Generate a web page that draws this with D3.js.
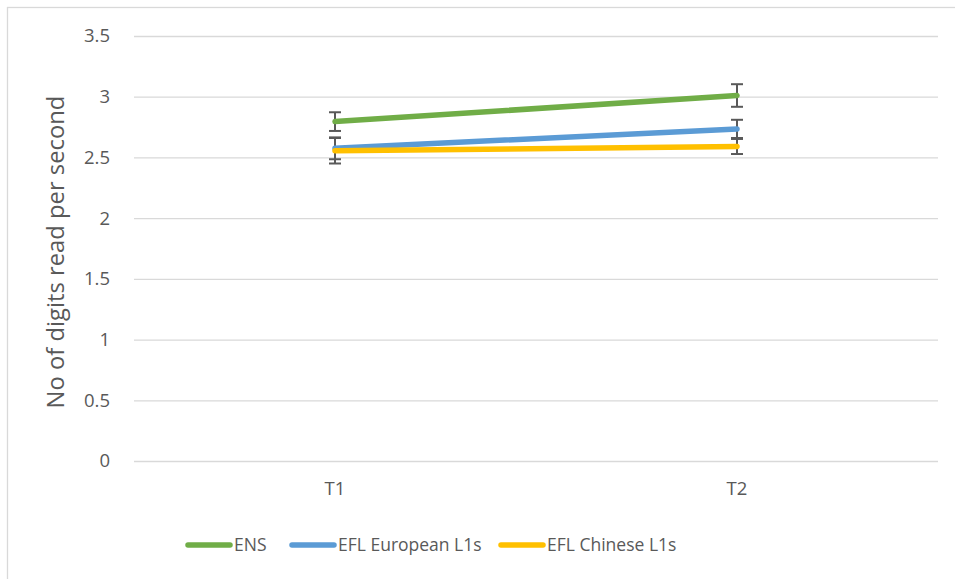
<!DOCTYPE html>
<html>
<head>
<meta charset="utf-8">
<script src="https://cdn.jsdelivr.net/npm/d3@7"></script>
<style>
  html, body { margin: 0; padding: 0; background: #fff; }
  svg { display: block; }
  text { font-family: "Open Sans", Lato, sans-serif; fill: #595959; }
</style>
</head>
<body>
<svg id="chart" width="955" height="579"></svg>
<script>
// Time points and y-axis ticks
const categories = ["T1", "T2"];
const yTicks = [0, 0.5, 1, 1.5, 2, 2.5, 3, 3.5];

// Group names and colours
const seriesNames = ["ENS", "EFL European L1s", "EFL Chinese L1s"];
const seriesColors = ["#70AD47", "#5B9BD5", "#FFC000"];

// Mean digits read per second at each time point, with error bar half-widths
const ensValues = [2.795, 3.01];
const ensErrors = [0.077, 0.093];
const europeanValues = [2.575, 2.735];
const europeanErrors = [0.09, 0.075];
const chineseValues = [2.555, 2.59];
const chineseErrors = [0.105, 0.062];

const series = [
  { name: seriesNames[0], color: seriesColors[0], values: ensValues, errors: ensErrors },
  { name: seriesNames[1], color: seriesColors[1], values: europeanValues, errors: europeanErrors },
  { name: seriesNames[2], color: seriesColors[2], values: chineseValues, errors: chineseErrors }
];

const svg = d3.select("#chart");
const FONT = '"Open Sans", Lato, sans-serif';

// Outer chart frame
svg.append("rect")
  .attr("x", 7.5).attr("y", 7.5)
  .attr("width", 970).attr("height", 600)
  .attr("fill", "none")
  .attr("stroke", "#d9d9d9")
  .attr("stroke-width", 1.3);

const plot = { left: 134, right: 938, top: 36, bottom: 461 };

const x = d3.scaleBand().domain(categories).range([plot.left, plot.right]);
const y = d3.scaleLinear().domain([0, 3.5]).range([plot.bottom, plot.top]);

// Horizontal gridlines with tick labels
const yAxis = d3.axisLeft(y)
  .tickValues(yTicks)
  .tickSize(-(plot.right - plot.left))
  .tickPadding(24)
  .tickFormat(d3.format("~g"));

const gy = svg.append("g")
  .attr("transform", `translate(${plot.left},0)`)
  .call(yAxis);
gy.select(".domain").remove();
gy.selectAll(".tick line").attr("stroke", "#d9d9d9").attr("stroke-width", 1.3);
gy.selectAll(".tick text")
  .attr("font-size", 18.5)
  .attr("fill", "#595959")
  .style("font-family", FONT);

// Category labels
const xAxis = d3.axisBottom(x).tickSize(0).tickPadding(21);
const gx = svg.append("g")
  .attr("transform", `translate(0,${plot.bottom})`)
  .call(xAxis);
gx.select(".domain").remove();
gx.selectAll(".tick text")
  .attr("font-size", 18.5)
  .attr("fill", "#595959")
  .style("font-family", FONT);

// Y-axis title
svg.append("text")
  .attr("transform", `translate(63.5,252) rotate(-90)`)
  .attr("text-anchor", "middle")
  .attr("font-size", 23.8)
  .text("No of digits read per second");

const cx = d => x(d) + x.bandwidth() / 2;

// Error bars
const capHalf = 6;
series.forEach(s => {
  const g = svg.append("g")
    .attr("stroke", "#595959")
    .attr("stroke-width", 2)
    .attr("fill", "none");
  categories.forEach((c, i) => {
    const v = s.values[i], e = s.errors[i];
    const xp = cx(c);
    g.append("line")
      .attr("x1", xp).attr("x2", xp)
      .attr("y1", y(v + e)).attr("y2", y(v - e));
    [v + e, v - e].forEach(b => {
      g.append("line")
        .attr("x1", xp - capHalf).attr("x2", xp + capHalf)
        .attr("y1", y(b)).attr("y2", y(b));
    });
  });
});

// Series lines
const line = d3.line()
  .x((d, i) => cx(categories[i]))
  .y(d => y(d));

series.forEach(s => {
  svg.append("path")
    .datum(s.values)
    .attr("d", line)
    .attr("fill", "none")
    .attr("stroke", s.color)
    .attr("stroke-width", 5.5)
    .attr("stroke-linecap", "round");
});

// Legend
const legendY = 545;
const legendX = [188, 292, 501];
const legend = svg.append("g");
series.forEach((s, i) => {
  const g = legend.append("g").attr("transform", `translate(${legendX[i]},${legendY})`);
  g.append("line")
    .attr("x1", 0).attr("x2", 42)
    .attr("y1", 0).attr("y2", 0)
    .attr("stroke", s.color)
    .attr("stroke-width", 5.5)
    .attr("stroke-linecap", "round");
  g.append("text")
    .attr("x", 46)
    .attr("y", 0)
    .attr("dy", "0.35em")
    .attr("font-size", 17.5)
    .text(s.name);
});
</script>
</body>
</html>
